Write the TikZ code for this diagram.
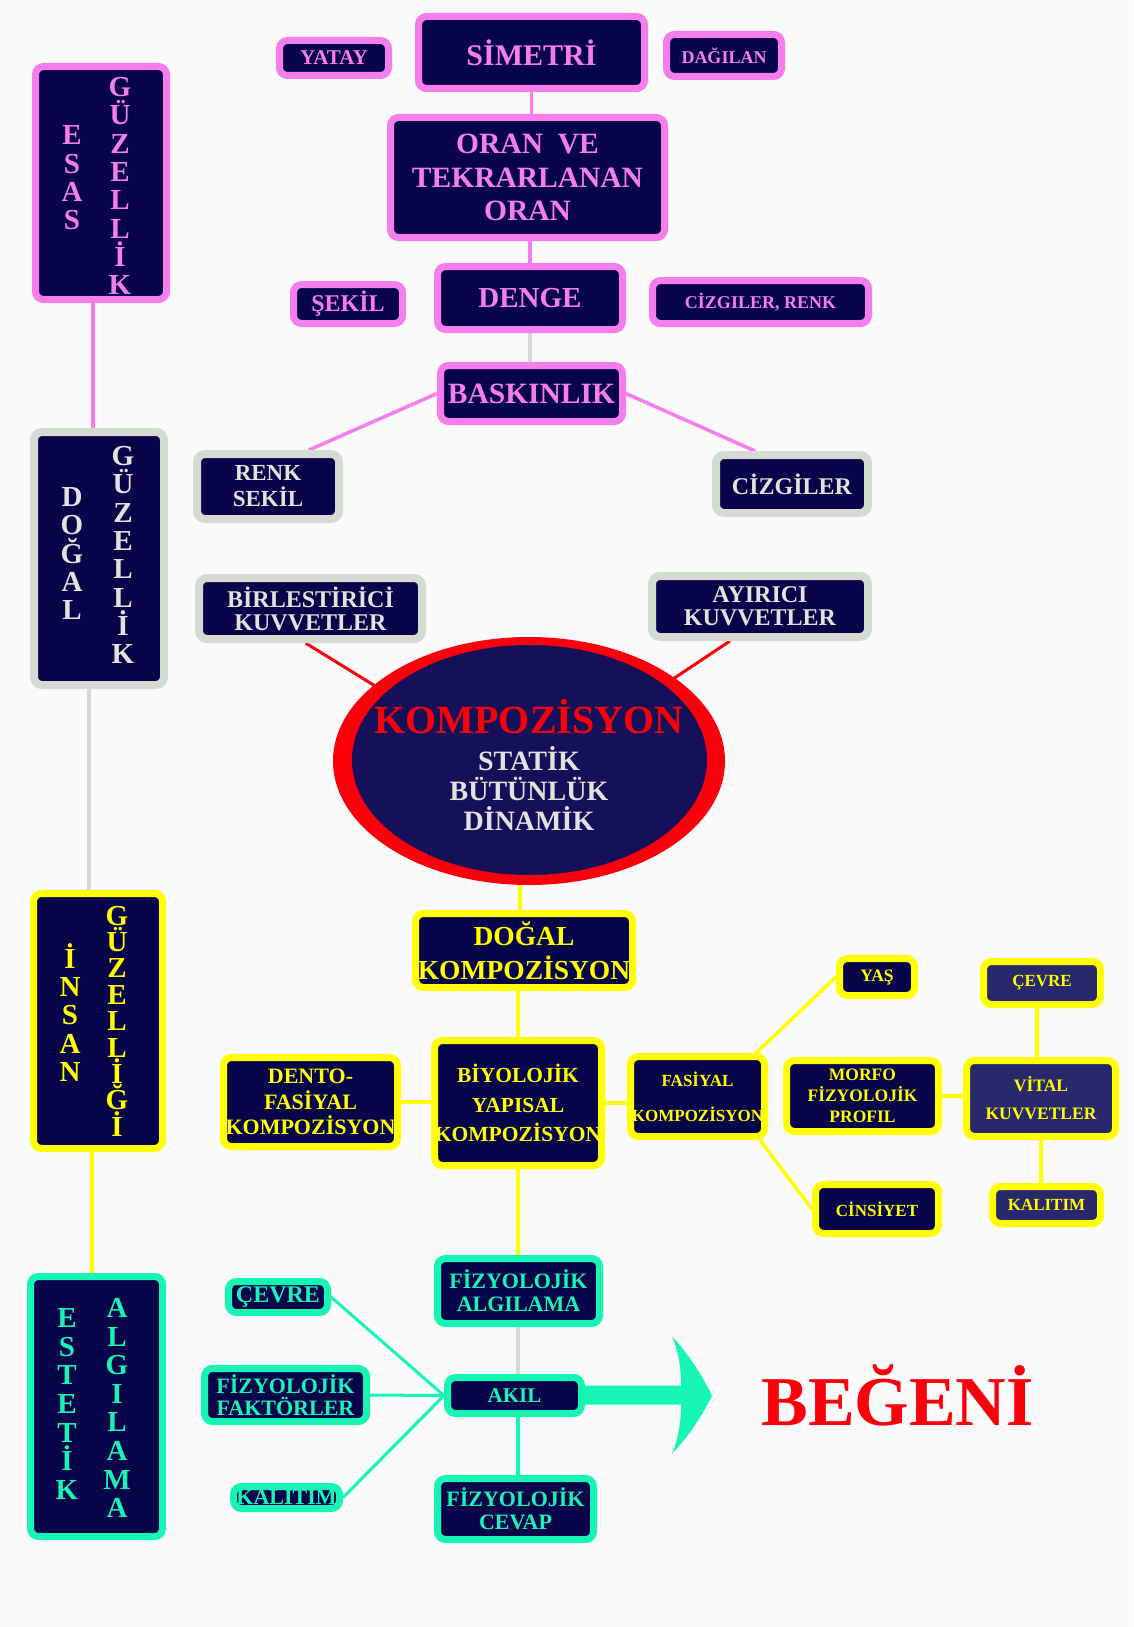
\documentclass[tikz,border=0pt]{standalone}
\usepackage{fontspec}
\setmainfont{Liberation Serif}
\usetikzlibrary{shapes.geometric}

\definecolor{navy}{RGB}{8,4,74}
\definecolor{navylight}{RGB}{40,40,108}
\definecolor{ovalnavy}{RGB}{20,17,90}
\definecolor{pinkline}{RGB}{246,126,236}
\definecolor{grayline}{RGB}{212,219,210}
\definecolor{graytext}{RGB}{224,228,220}
\definecolor{yelline}{RGB}{255,255,0}
\definecolor{cyanline}{RGB}{22,245,180}
\definecolor{kred}{RGB}{250,0,10}
\definecolor{paper}{RGB}{250,250,251}

\newcommand{\fsz}[2]{\fontsize{#1}{#2}\selectfont}

\pgfdeclarelayer{bg}
\pgfsetlayers{bg,main}

\tikzset{
  box/.style={rectangle, rounded corners=8pt, fill=navy, line width=7pt, inner sep=0pt, align=center},
  pinkbox/.style={box, draw=pinkline, text=pinkline},
  graybox/.style={box, draw=grayline, text=graytext, line width=8pt},
  yelbox/.style={box, draw=yelline, text=yelline},
  cyanbox/.style={box, draw=cyanline, text=cyanline},
  sz/.style 2 args={font=\bfseries\fsz{#1}{#2}},
  letters/.style={inner sep=0pt, align=center},
  link/.style={line width=3.5pt},
}

\begin{document}
\begin{tikzpicture}[x=1pt, y=-1pt]
\useasboundingbox (0,0) rectangle (1133,1627);

% esas guzellik
\node[pinkbox, minimum width=109, minimum height=35, sz={21}{24}] (yatay) at (334,58) {YATAY};
\node[pinkbox, minimum width=226, minimum height=72, sz={30}{34}] (simetri) at (531.5,52.5) {SİMETRİ};
\node[pinkbox, minimum width=115, minimum height=42, sz={18}{20}] (dagilan) at (724,55.5) {DAĞILAN};
\node[pinkbox, minimum width=274, minimum height=120, sz={29.5}{33.5}] (oran) at (527.5,177.5) {ORAN~~VE\\TEKRARLANAN\\ORAN};
\node[pinkbox, minimum width=109, minimum height=39, sz={24}{26}] (sekil) at (348,304) {ŞEKİL};
\node[pinkbox, minimum width=185, minimum height=63, sz={29}{32}] (denge) at (530,298) {DENGE};
\node[pinkbox, minimum width=216, minimum height=43, sz={18}{20}] (cizrenk) at (760.5,302) {CİZGILER, RENK};
\node[pinkbox, minimum width=182, minimum height=56, sz={29.5}{32}] (baskin) at (531.5,393.5) {BASKINLIK};
\node[pinkbox, minimum width=131, minimum height=233] (esas) at (101,183) {};
\node[letters, text=pinkline, sz={29}{28.3}] (esasL) at ([xshift=-29pt,yshift=5pt]esas.center) {E\\S\\A\\S};
\node[letters, text=pinkline, sz={29}{28.3}] (esasR) at ([xshift=19pt,yshift=-3pt]esas.center) {G\\Ü\\Z\\E\\L\\L\\İ\\K};

% dogal guzellik
\node[graybox, minimum width=130, minimum height=253] (dogal) at (99,558.5) {};
\node[letters, text=graytext, sz={29}{28.3}] (dogalL) at ([xshift=-27pt,yshift=5pt]dogal.center) {D\\O\\Ğ\\A\\L};
\node[letters, text=graytext, sz={29}{28.3}] (dogalR) at ([xshift=24pt,yshift=3.5pt]dogal.center) {G\\Ü\\Z\\E\\L\\L\\İ\\K};
\node[graybox, minimum width=142, minimum height=65, sz={23}{26}] (renksekil) at (268,486.5) {RENK\\SEKİL};
\node[graybox, minimum width=152, minimum height=58, sz={24}{26}] (cizgiler) at (792,484) {CİZGİLER};
\node[graybox, minimum width=223, minimum height=61, sz={24}{23}] (birles) at (310.5,608.5) {BİRLESTİRİCİ\\KUVVETLER};
\node[graybox, minimum width=216, minimum height=61, sz={24}{23}] (ayirici) at (760,606.5) {AYIRICI\\KUVVETLER};

% kompozisyon
\node[ellipse, fill=kred, minimum width=392, minimum height=248, inner sep=0pt] (kompo) at (529,761) {};
\fill[ovalnavy] ([xshift=0.5pt,yshift=1pt]kompo.center) ellipse [x radius=177.5pt, y radius=115pt];
\node[letters, text=graytext, sz={28}{30}] (kompotxt) at (529,765) {\textcolor{kred}{\fsz{40}{30}KOMPOZİSYON}\\[7pt]STATİK\\BÜTÜNLÜK\\DİNAMİK};

% insan guzelligi
\node[yelbox, minimum width=217, minimum height=74, sz={27.5}{34}] (dogkomp) at (524,950.5) {DOĞAL\\KOMPOZİSYON};
\node[yelbox, minimum width=129, minimum height=255] (insan) at (98,1021) {};
\node[letters, text=yelline, sz={29}{28.3}] (insanL) at ([xshift=-28pt,yshift=8.5pt]insan.center) {İ\\N\\S\\A\\N};
\node[letters, text=yelline, sz={29}{26.4}] (insanR) at ([xshift=19pt]insan.center) {G\\Ü\\Z\\E\\L\\L\\İ\\Ğ\\İ};
\node[yelbox, minimum width=167, minimum height=125, sz={21.5}{29.5}] (biyo) at (518,1103) {BİYOLOJİK\\YAPISAL\\KOMPOZİSYON};
\node[yelbox, minimum width=174, minimum height=89, sz={22}{25.5}] (dento) at (310.5,1102) {DENTO-\\FASİYAL\\KOMPOZİSYON};
\node[yelbox, minimum width=134, minimum height=80, sz={17}{35}] (fasiyal) at (697.5,1096.5) {FASİYAL\\KOMPOZİSYON};
\node[yelbox, minimum width=75, minimum height=37, sz={17.5}{20}] (yas) at (877,977) {YAŞ};
\node[yelbox, minimum width=152, minimum height=71, sz={17.5}{21}] (morfo) at (862.5,1096) {MORFO\\FİZYOLOJİK\\PROFIL};
\node[yelbox, fill=navylight, minimum width=149, minimum height=76, sz={17.5}{28}] (vital) at (1041,1098.5) {VİTAL\\KUVVETLER};
\node[yelbox, fill=navylight, minimum width=117, minimum height=43, sz={17}{20}] (cevreA) at (1042,983) {ÇEVRE};
\node[yelbox, minimum width=123, minimum height=49, sz={17}{20}] (cinsiyet) at (877,1209) {CİNSİYET};
\node[yelbox, fill=navylight, minimum width=108, minimum height=37, sz={17}{20}] (kalitimA) at (1046.5,1205) {KALITIM};

% estetik algilama
\node[cyanbox, minimum width=132, minimum height=260] (estetik) at (96.5,1406.5) {};
\node[letters, text=cyanline, sz={29}{28.6}] (estetikL) at ([xshift=-29.5pt,yshift=2.5pt]estetik.center) {E\\S\\T\\E\\T\\İ\\K};
\node[letters, text=cyanline, sz={29}{28.6}] (estetikR) at ([xshift=20.5pt,yshift=-1.5pt]estetik.center) {A\\L\\G\\I\\L\\A\\M\\A};
\node[cyanbox, minimum width=162, minimum height=65, sz={22}{23}] (fizalg) at (518.5,1291) {FİZYOLOJİK\\ALGILAMA};
\node[cyanbox, minimum width=99, minimum height=31, sz={24}{26}] (cevreB) at (278,1297) {ÇEVRE};
\node[cyanbox, minimum width=162, minimum height=53, sz={22}{22}] (fizfak) at (285.5,1395) {FİZYOLOJİK\\FAKTÖRLER};
\node[cyanbox, minimum width=134, minimum height=36, sz={21}{24}] (akil) at (514.5,1395.5) {AKIL};
\node[cyanbox, minimum width=106, minimum height=22, sz={22}{24}] (kalitimB) at (286.5,1497.5) {KALITIM};
\node[cyanbox, minimum width=156, minimum height=61, sz={22}{23}] (fizcev) at (515.5,1509) {FİZYOLOJİK\\CEVAP};
\node[anchor=base, inner sep=0pt, text=kred, sz={70}{80}] (begeni) at (897.5,1425) {BEĞENİ};

\begin{pgfonlayer}{bg}
\fill[paper] (0,0) rectangle (1133,1627);
% side column
\draw[link, pinkline] ([xshift=-8pt]esas.south) -- ([xshift=-8pt]esas.south |- dogal.north);
\draw[link, grayline] ([xshift=-10pt]dogal.south) -- ([xshift=-10pt]dogal.south |- insan.north);
\draw[link, yelline] ([xshift=-6pt]insan.south) -- ([xshift=-6pt]insan.south |- estetik.north);
% top tree
\draw[link, pinkline] (simetri) -- (simetri |- oran);
\draw[link, pinkline] (denge |- oran) -- (denge);
\draw[link, grayline] (denge) -- (denge |- baskin);
\draw[link, pinkline] (baskin.west) -- ([xshift=41pt]renksekil.north);
\draw[link, pinkline] (baskin.east) -- ([xshift=-37pt]cizgiler.north);
\draw[kred, line width=3pt] ([xshift=-5pt]birles.south) -- ([yshift=-20pt]kompo.center);
\draw[kred, line width=3pt] ([xshift=-30pt]ayirici.south) -- ([yshift=-14pt]kompo.center);
% middle tree
\draw[link, yelline] ([xshift=-4pt]dogkomp.center |- kompo.center) -- ([xshift=-4pt]dogkomp.center);
\draw[link, yelline] (biyo |- dogkomp) -- (biyo);
\draw[link, yelline] (dento) -- (dento -| biyo);
\draw[link, yelline] (biyo) -- (biyo -| fasiyal);
\draw[link, yelline] ([xshift=-12pt]fasiyal.north east) -- (yas.west);
\draw[link, yelline] ([xshift=-8pt]fasiyal.south east) -- (cinsiyet.west);
\draw[link, yelline] (morfo) -- (morfo -| vital);
\draw[link, yelline] ([xshift=-5pt]cevreA.center) -- ([xshift=-5pt]cevreA.center |- vital.center);
\draw[link, yelline] (vital) -- (vital |- kalitimA);
% bottom tree
\draw[link, yelline] (biyo) -- (biyo |- fizalg);
\draw[link, grayline] (biyo |- fizalg) -- (biyo |- akil);
\draw[link, cyanline] (biyo |- akil) -- (biyo |- fizcev);
\draw[cyanline, line width=3pt] (cevreB.east) -- (akil.west);
\draw[cyanline, line width=3pt] (fizfak.east) -- (akil.west);
\draw[cyanline, line width=3pt] (kalitimB.east) -- (akil.west);
\begin{scope}[shift={(akil.east)}]
\fill[cyanline] (0,-10) -- (96,-10) .. controls (96,-30) and (93,-45) .. (87,-59)
  .. controls (105,-40) and (118,-18) .. (127,0) .. controls (118,18) and (105,40) .. (87,58)
  .. controls (93,44) and (96,28) .. (96,9) -- (0,9) -- cycle;
\end{scope}
\end{pgfonlayer}
\end{tikzpicture}
\end{document}
